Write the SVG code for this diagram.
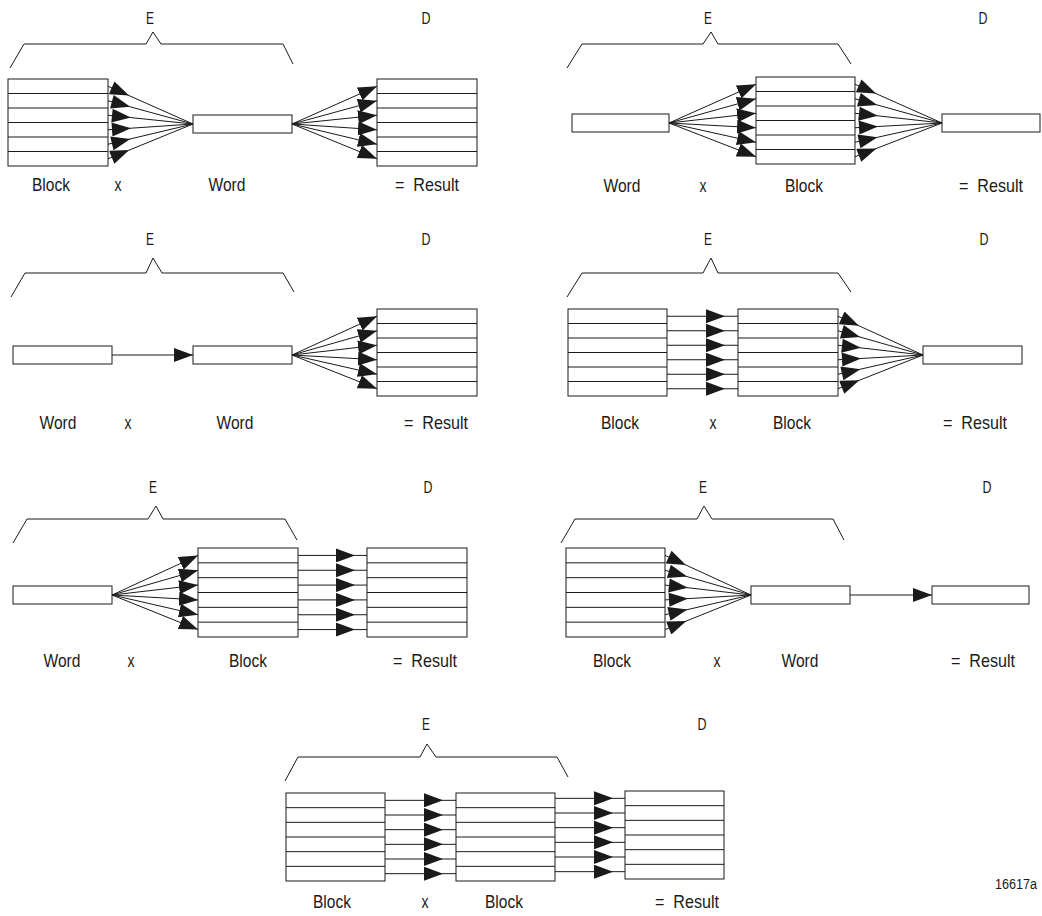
<svg xmlns="http://www.w3.org/2000/svg" width="1042" height="916" viewBox="0 0 1042 916">
<style>
.b{fill:#fff;stroke:#1a1a1a;stroke-width:1}
.r{fill:none;stroke:#1a1a1a;stroke-width:1}
.c{fill:none;stroke:#1a1a1a;stroke-width:1}
.br{fill:none;stroke:#1a1a1a;stroke-width:1}
.t{font-family:"Liberation Sans",Arial,sans-serif;font-size:19px;fill:#1a1a1a}
.h{font-family:"Liberation Sans",Arial,sans-serif;font-size:17px;fill:#1a1a1a;text-anchor:middle}
.m{text-anchor:middle}
.fe{marker-end:url(#ae)}
.fs{marker-start:url(#as)}
.fm{marker-mid:url(#ae)}
</style>
<defs>
<marker id="ae" markerUnits="userSpaceOnUse" viewBox="0 0 19 14" refX="19" refY="7" markerWidth="19" markerHeight="14" orient="auto"><path d="M0,0 L19,7 L0,14 Z" fill="#1a1a1a"/></marker>
<marker id="as" markerUnits="userSpaceOnUse" viewBox="0 0 23 14" refX="0" refY="7" markerWidth="23" markerHeight="14" orient="auto"><path d="M4,0 L23,7 L4,14 Z" fill="#1a1a1a"/></marker>
</defs>

<!-- Panel 1 -->
<g id="p1">
<path class="br" d="M10,68 L24,44 L146,44 L153,32 L161,44 L283,44 L293,64"/>
<text class="h" x="150" y="24" textLength="8" lengthAdjust="spacingAndGlyphs">E</text>
<text class="h" x="426" y="24" textLength="9" lengthAdjust="spacingAndGlyphs">D</text>
<g id="p1-block"><rect class="b" x="8" y="79" width="100" height="87"/><path class="r" d="M8,93.5H108M8,108H108M8,122.5H108M8,137H108M8,151.5H108"/></g>
<g id="p1-word"><rect class="b" x="193" y="115" width="99" height="18"/></g>
<g id="p1-result"><rect class="b" x="377" y="79" width="100" height="87"/><path class="r" d="M377,93.5H477M377,108H477M377,122.5H477M377,137H477M377,151.5H477"/></g>
<text class="t m" x="51" y="191" textLength="38" lengthAdjust="spacingAndGlyphs">Block</text>
<text class="t m" x="118" y="191" textLength="7" lengthAdjust="spacingAndGlyphs">x</text>
<text class="t m" x="227" y="191" textLength="37" lengthAdjust="spacingAndGlyphs">Word</text>
<text class="t" x="395" y="191" xml:space="preserve" textLength="64" lengthAdjust="spacingAndGlyphs">=  Result</text>
</g>

<!-- Panel 2 -->
<g id="p2">
<path class="br" d="M567,68 L582,44 L703,44 L711,32 L718,44 L838,44 L851,64"/>
<text class="h" x="708" y="24" textLength="8" lengthAdjust="spacingAndGlyphs">E</text>
<text class="h" x="983" y="24" textLength="9" lengthAdjust="spacingAndGlyphs">D</text>
<g id="p2-word"><rect class="b" x="572" y="114" width="97" height="18"/></g>
<g id="p2-block"><rect class="b" x="756" y="77" width="99" height="87"/><path class="r" d="M756,91.5H855M756,106H855M756,120.5H855M756,135H855M756,149.5H855"/></g>
<g id="p2-result"><rect class="b" x="942" y="114" width="98" height="18"/></g>
<text class="t m" x="622" y="192" textLength="37" lengthAdjust="spacingAndGlyphs">Word</text>
<text class="t m" x="703" y="192" textLength="7" lengthAdjust="spacingAndGlyphs">x</text>
<text class="t m" x="804" y="192" textLength="38" lengthAdjust="spacingAndGlyphs">Block</text>
<text class="t" x="959" y="192" xml:space="preserve" textLength="64" lengthAdjust="spacingAndGlyphs">=  Result</text>
</g>

<!-- Panel 3 -->
<g id="p3">
<path class="br" d="M11,297 L25,273 L146,273 L153,258 L162,273 L283,273 L294,292"/>
<text class="h" x="150" y="245" textLength="8" lengthAdjust="spacingAndGlyphs">E</text>
<text class="h" x="426" y="245" textLength="9" lengthAdjust="spacingAndGlyphs">D</text>
<g id="p3-word1"><rect class="b" x="13" y="346" width="99" height="18"/></g>
<g id="p3-word2"><rect class="b" x="193" y="346" width="99" height="18"/></g>
<g id="p3-result"><rect class="b" x="377" y="309" width="100" height="87"/><path class="r" d="M377,323.5H477M377,338H477M377,352.5H477M377,367H477M377,381.5H477"/></g>
<text class="t m" x="58" y="429" textLength="37" lengthAdjust="spacingAndGlyphs">Word</text>
<text class="t m" x="128" y="429" textLength="7" lengthAdjust="spacingAndGlyphs">x</text>
<text class="t m" x="235" y="429" textLength="37" lengthAdjust="spacingAndGlyphs">Word</text>
<text class="t" x="404" y="429" xml:space="preserve" textLength="64" lengthAdjust="spacingAndGlyphs">=  Result</text>
</g>

<!-- Panel 4 -->
<g id="p4">
<path class="br" d="M567,297 L582,273 L703,273 L711,258 L718,273 L838,273 L851,292"/>
<text class="h" x="708" y="245" textLength="8" lengthAdjust="spacingAndGlyphs">E</text>
<text class="h" x="984" y="245" textLength="9" lengthAdjust="spacingAndGlyphs">D</text>
<g id="p4-block1"><rect class="b" x="568" y="309" width="99" height="87"/><path class="r" d="M568,323.5H667M568,338H667M568,352.5H667M568,367H667M568,381.5H667"/></g>
<g id="p4-block2"><rect class="b" x="738" y="309" width="100" height="87"/><path class="r" d="M738,323.5H838M738,338H838M738,352.5H838M738,367H838M738,381.5H838"/></g>
<g id="p4-result"><rect class="b" x="923" y="346" width="99" height="18"/></g>
<text class="t m" x="620" y="429" textLength="38" lengthAdjust="spacingAndGlyphs">Block</text>
<text class="t m" x="713" y="429" textLength="7" lengthAdjust="spacingAndGlyphs">x</text>
<text class="t m" x="792" y="429" textLength="38" lengthAdjust="spacingAndGlyphs">Block</text>
<text class="t" x="943" y="429" xml:space="preserve" textLength="64" lengthAdjust="spacingAndGlyphs">=  Result</text>
</g>

<!-- Panel 5 -->
<g id="p5">
<path class="br" d="M13,543 L27,519 L148,519 L156,506 L163,519 L285,519 L297,540"/>
<text class="h" x="153" y="493" textLength="8" lengthAdjust="spacingAndGlyphs">E</text>
<text class="h" x="428" y="493" textLength="9" lengthAdjust="spacingAndGlyphs">D</text>
<g id="p5-word"><rect class="b" x="13" y="586" width="99" height="18"/></g>
<g id="p5-block"><rect class="b" x="198" y="548" width="100" height="89"/><path class="r" d="M198,562.83H298M198,577.67H298M198,592.5H298M198,607.33H298M198,622.17H298"/></g>
<g id="p5-result"><rect class="b" x="367" y="548" width="100" height="89"/><path class="r" d="M367,562.83H467M367,577.67H467M367,592.5H467M367,607.33H467M367,622.17H467"/></g>
<text class="t m" x="62" y="667" textLength="37" lengthAdjust="spacingAndGlyphs">Word</text>
<text class="t m" x="131" y="667" textLength="7" lengthAdjust="spacingAndGlyphs">x</text>
<text class="t m" x="248" y="667" textLength="38" lengthAdjust="spacingAndGlyphs">Block</text>
<text class="t" x="393" y="667" xml:space="preserve" textLength="64" lengthAdjust="spacingAndGlyphs">=  Result</text>
</g>

<!-- Panel 6 -->
<g id="p6">
<path class="br" d="M561,543 L575,519 L697,519 L704,506 L712,519 L833,519 L844,540"/>
<text class="h" x="703" y="493" textLength="8" lengthAdjust="spacingAndGlyphs">E</text>
<text class="h" x="987" y="493" textLength="9" lengthAdjust="spacingAndGlyphs">D</text>
<g id="p6-block"><rect class="b" x="566" y="548" width="99" height="89"/><path class="r" d="M566,562.83H665M566,577.67H665M566,592.5H665M566,607.33H665M566,622.17H665"/></g>
<g id="p6-word"><rect class="b" x="751" y="586" width="99" height="18"/></g>
<g id="p6-result"><rect class="b" x="932" y="586" width="97" height="18"/></g>
<text class="t m" x="612" y="667" textLength="38" lengthAdjust="spacingAndGlyphs">Block</text>
<text class="t m" x="717" y="667" textLength="7" lengthAdjust="spacingAndGlyphs">x</text>
<text class="t m" x="800" y="667" textLength="37" lengthAdjust="spacingAndGlyphs">Word</text>
<text class="t" x="951" y="667" xml:space="preserve" textLength="64" lengthAdjust="spacingAndGlyphs">=  Result</text>
</g>

<!-- Panel 7 -->
<g id="p7">
<path class="br" d="M285,781 L298,757 L420,757 L427,744 L436,757 L557,757 L568,777"/>
<text class="h" x="426" y="730" textLength="8" lengthAdjust="spacingAndGlyphs">E</text>
<text class="h" x="702" y="730" textLength="9" lengthAdjust="spacingAndGlyphs">D</text>
<g id="p7-block1"><rect class="b" x="286" y="793" width="99" height="88"/><path class="r" d="M286,807.67H385M286,822.33H385M286,837H385M286,851.67H385M286,866.33H385"/></g>
<g id="p7-block2"><rect class="b" x="456" y="793" width="99" height="88"/><path class="r" d="M456,807.67H555M456,822.33H555M456,837H555M456,851.67H555M456,866.33H555"/></g>
<g id="p7-result"><rect class="b" x="625" y="791" width="99" height="88"/><path class="r" d="M625,805.67H724M625,820.33H724M625,835H724M625,849.67H724M625,864.33H724"/></g>
<text class="t m" x="332" y="908" textLength="38" lengthAdjust="spacingAndGlyphs">Block</text>
<text class="t m" x="425" y="908" textLength="7" lengthAdjust="spacingAndGlyphs">x</text>
<text class="t m" x="504" y="908" textLength="38" lengthAdjust="spacingAndGlyphs">Block</text>
<text class="t" x="655" y="908" xml:space="preserve" textLength="64" lengthAdjust="spacingAndGlyphs">=  Result</text>
</g>

<text id="figno" class="t" x="995" y="889" style="font-size:14px" textLength="42" lengthAdjust="spacingAndGlyphs">16617a</text>

<g id="connectors">
<path class="c fs" d="M108,86.25 L193,124"/>
<path class="c fs" d="M108,100.75 L193,124"/>
<path class="c fs" d="M108,115.25 L193,124"/>
<path class="c fs" d="M108,129.75 L193,124"/>
<path class="c fs" d="M108,144.25 L193,124"/>
<path class="c fs" d="M108,158.75 L193,124"/>
<path class="c fe" d="M292,124 L377,86.25"/>
<path class="c fe" d="M292,124 L377,100.75"/>
<path class="c fe" d="M292,124 L377,115.25"/>
<path class="c fe" d="M292,124 L377,129.75"/>
<path class="c fe" d="M292,124 L377,144.25"/>
<path class="c fe" d="M292,124 L377,158.75"/>
<path class="c fe" d="M669,123 L756,84.25"/>
<path class="c fe" d="M669,123 L756,98.75"/>
<path class="c fe" d="M669,123 L756,113.25"/>
<path class="c fe" d="M669,123 L756,127.75"/>
<path class="c fe" d="M669,123 L756,142.25"/>
<path class="c fe" d="M669,123 L756,156.75"/>
<path class="c fs" d="M855,84.25 L942,123"/>
<path class="c fs" d="M855,98.75 L942,123"/>
<path class="c fs" d="M855,113.25 L942,123"/>
<path class="c fs" d="M855,127.75 L942,123"/>
<path class="c fs" d="M855,142.25 L942,123"/>
<path class="c fs" d="M855,156.75 L942,123"/>
<path class="c fe" d="M112,355 L193,355"/>
<path class="c fe" d="M292,355 L377,316.25"/>
<path class="c fe" d="M292,355 L377,330.75"/>
<path class="c fe" d="M292,355 L377,345.25"/>
<path class="c fe" d="M292,355 L377,359.75"/>
<path class="c fe" d="M292,355 L377,374.25"/>
<path class="c fe" d="M292,355 L377,388.75"/>
<path class="c fm" d="M667,316.25 L725,316.25 L738,316.25"/>
<path class="c fm" d="M667,330.75 L725,330.75 L738,330.75"/>
<path class="c fm" d="M667,345.25 L725,345.25 L738,345.25"/>
<path class="c fm" d="M667,359.75 L725,359.75 L738,359.75"/>
<path class="c fm" d="M667,374.25 L725,374.25 L738,374.25"/>
<path class="c fm" d="M667,388.75 L725,388.75 L738,388.75"/>
<path class="c fs" d="M838,316.25 L923,355"/>
<path class="c fs" d="M838,330.75 L923,355"/>
<path class="c fs" d="M838,345.25 L923,355"/>
<path class="c fs" d="M838,359.75 L923,355"/>
<path class="c fs" d="M838,374.25 L923,355"/>
<path class="c fs" d="M838,388.75 L923,355"/>
<path class="c fe" d="M112,595 L198,555.42"/>
<path class="c fe" d="M112,595 L198,570.25"/>
<path class="c fe" d="M112,595 L198,585.08"/>
<path class="c fe" d="M112,595 L198,599.92"/>
<path class="c fe" d="M112,595 L198,614.75"/>
<path class="c fe" d="M112,595 L198,629.58"/>
<path class="c fm" d="M298,555.42 L355,555.42 L367,555.42"/>
<path class="c fm" d="M298,570.25 L355,570.25 L367,570.25"/>
<path class="c fm" d="M298,585.08 L355,585.08 L367,585.08"/>
<path class="c fm" d="M298,599.92 L355,599.92 L367,599.92"/>
<path class="c fm" d="M298,614.75 L355,614.75 L367,614.75"/>
<path class="c fm" d="M298,629.58 L355,629.58 L367,629.58"/>
<path class="c fs" d="M665,555.42 L751,595"/>
<path class="c fs" d="M665,570.25 L751,595"/>
<path class="c fs" d="M665,585.08 L751,595"/>
<path class="c fs" d="M665,599.92 L751,595"/>
<path class="c fs" d="M665,614.75 L751,595"/>
<path class="c fs" d="M665,629.58 L751,595"/>
<path class="c fe" d="M850,595 L932,595"/>
<path class="c fm" d="M385,800.33 L443,800.33 L456,800.33"/>
<path class="c fm" d="M385,815 L443,815 L456,815"/>
<path class="c fm" d="M385,829.67 L443,829.67 L456,829.67"/>
<path class="c fm" d="M385,844.33 L443,844.33 L456,844.33"/>
<path class="c fm" d="M385,859 L443,859 L456,859"/>
<path class="c fm" d="M385,873.67 L443,873.67 L456,873.67"/>
<path class="c fm" d="M555,798.33 L613,798.33 L625,798.33"/>
<path class="c fm" d="M555,813 L613,813 L625,813"/>
<path class="c fm" d="M555,827.67 L613,827.67 L625,827.67"/>
<path class="c fm" d="M555,842.33 L613,842.33 L625,842.33"/>
<path class="c fm" d="M555,857 L613,857 L625,857"/>
<path class="c fm" d="M555,871.67 L613,871.67 L625,871.67"/>
</g>
</svg>
